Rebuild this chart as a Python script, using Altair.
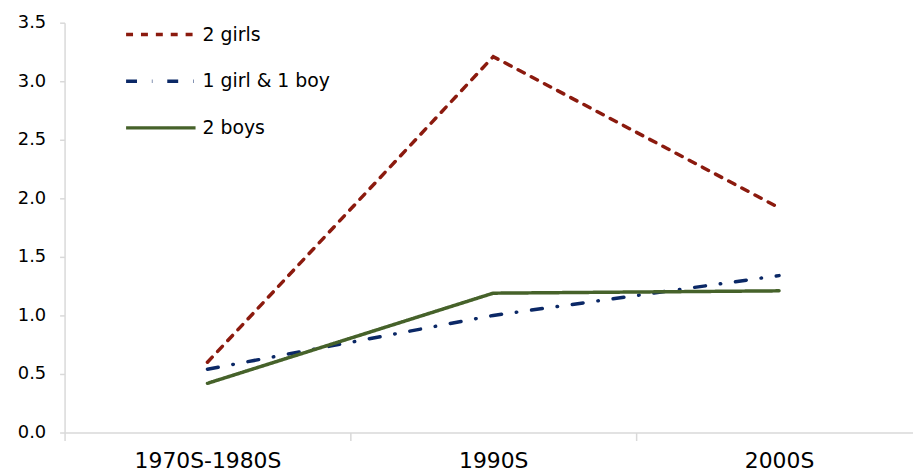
import altair as alt
import pandas as pd

periods = ["1970S-1980S", "1990S", "2000S"]
series_names = ["2 girls", "1 girl & 1 boy", "2 boys"]
girls2 = [0.60, 3.21, 1.92]
mixed = [0.54, 1.00, 1.34]
boys2 = [0.42, 1.19, 1.21]

colors = ["#8b1a0e", "#0b2866", "#46622a"]
dashes = [[7, 8], [11, 15, 0.5, 15], [1, 0]]
widths = [3.5, 3.5, 4]

rows = []
for name, vals in zip(series_names, [girls2, mixed, boys2]):
    for p, v in zip(periods, vals):
        rows.append({"period": p, "series": name, "value": v})
df = pd.DataFrame(rows)

font = "DejaVu Sans"
legend = alt.Legend(
    title=None, orient="none", legendX=60, legendY=-25,
    symbolType="stroke", symbolSize=4900, labelFontSize=19, labelFont=font,
    labelColor="#000000", rowPadding=-22, labelOffset=5, symbolStrokeWidth=3.5,
)

chart = alt.Chart(df).mark_line(strokeCap="round").encode(
    x=alt.X("period:N", sort=periods, title=None,
            scale=alt.Scale(range=[0, 864], paddingInner=0, paddingOuter=0),
            axis=alt.Axis(labelAngle=0, labelFontSize=22, labelFont=font, labelColor="#000000",
                          domainColor="#d9d9d9", domainWidth=1.5, tickColor="#d9d9d9", tickWidth=1.5,
                          tickSize=8, tickBand="extent", labelPadding=10, grid=False)),
    y=alt.Y("value:Q", title=None,
            scale=alt.Scale(domain=[0, 3.5], nice=False),
            axis=alt.Axis(values=[0, 0.5, 1, 1.5, 2, 2.5, 3, 3.5], format=".1f", labelFontSize=18,
                          labelFont=font, labelColor="#000000", domainColor="#d9d9d9", domainWidth=1.5,
                          tickColor="#d9d9d9", tickWidth=1.5, tickSize=5, labelPadding=14, grid=False)),
    color=alt.Color("series:N", sort=series_names,
                    scale=alt.Scale(domain=series_names, range=colors), legend=legend),
    strokeDash=alt.StrokeDash("series:N", sort=series_names,
                              scale=alt.Scale(domain=series_names, range=dashes), legend=legend),
    strokeWidth=alt.StrokeWidth("series:N", sort=series_names,
                                scale=alt.Scale(domain=series_names, range=widths), legend=None),
).properties(
    width=855, height=413,
    autosize=alt.AutoSizeParams(type="none"),
    padding={"left": 57, "top": 13, "right": 0, "bottom": 40},
).configure_view(stroke=None)

chart.save("out.html", embed_options={"renderer": "svg", "actions": False})
